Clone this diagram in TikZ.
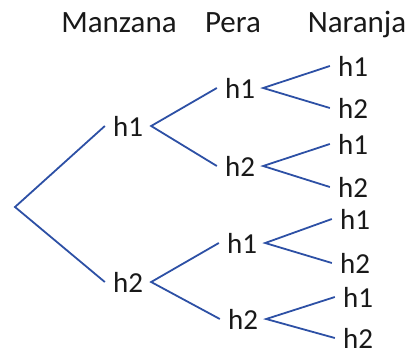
\documentclass[tikz,border=0pt]{standalone}
\usepackage{fontspec}
\setmainfont{Carlito}
\usetikzlibrary{positioning}
\definecolor{BranchBlue}{RGB}{45, 80, 165}
\definecolor{TextGray}{RGB}{25, 25, 25}

\begin{document}
\begin{tikzpicture}[x=1pt, y=-1pt,
    leaf/.style={inner xsep=8pt, inner ysep=0pt, font=\fontsize{29}{29}\selectfont, text=TextGray},
    head/.style={anchor=base, font=\fontsize{31}{31}\selectfont, text=TextGray},
    branch/.style={BranchBlue, line width=1.8pt}]
    \useasboundingbox (0,0) rectangle (411,351);

    % Column headers
    \node[head] (hManzana) at (119,32) {Manzana};
    \node[head] (hPera) at (233,32) {Pera};
    \node[head] (hNaranja) at (357,32) {Naranja};

    % Root
    \coordinate (root) at (15,207);

    % Manzana level
    \node[leaf] (m1) at (128,126) {h1};
    \node[leaf] (m2) at (128,282) {h2};

    % Pera level
    \node[leaf] (p1) at (240,88) {h1};
    \node[leaf] (p2) at (240,166) {h2};
    \node[leaf] (p3) at (242,243) {h1};
    \node[leaf] (p4) at (243,319) {h2};

    % Naranja level
    \node[leaf] (n1) at (353,66) {h1};
    \node[leaf] (n2) at (353,108) {h2};
    \node[leaf] (n3) at (353,144) {h1};
    \node[leaf] (n4) at (353,187) {h2};
    \node[leaf] (n5) at (355,219) {h1};
    \node[leaf] (n6) at (355,263) {h2};
    \node[leaf] (n7) at (358,297) {h1};
    \node[leaf] (n8) at (358,338) {h2};

    % Branches
    \draw[branch] (m1.west) -- (root) -- (m2.west);
    \foreach \a/\b/\c in {m1/p1/p2, m2/p3/p4, p1/n1/n2, p2/n3/n4, p3/n5/n6, p4/n7/n8}
        \draw[branch] (\b.west) -- (\a.east) -- (\c.west);
\end{tikzpicture}
\end{document}
